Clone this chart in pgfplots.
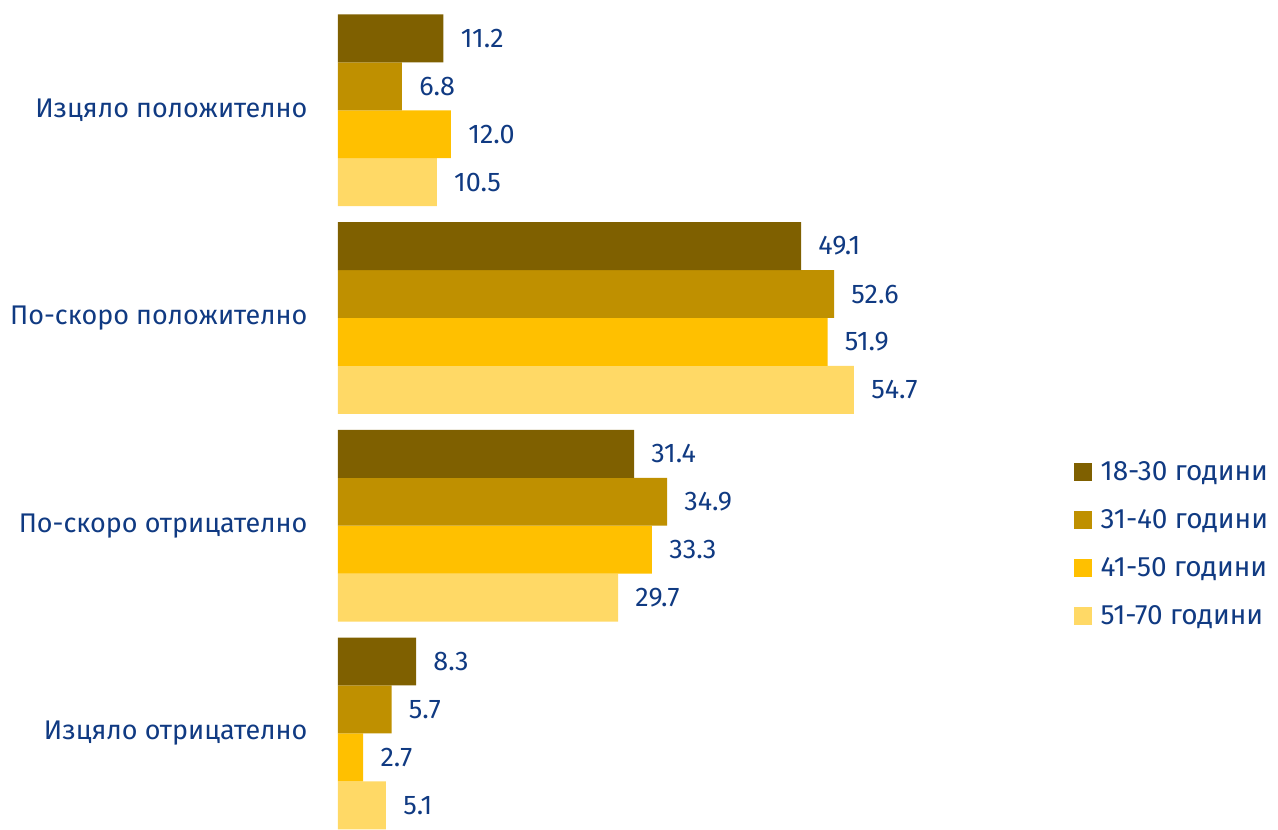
\documentclass[border=0pt]{standalone}
\usepackage{pgfplots}
\pgfplotsset{compat=1.18}
\usepackage{fontspec}
\setmainfont{Fira Sans}
\definecolor{txt}{RGB}{16,58,130}
\definecolor{cA}{HTML}{7F6000}
\definecolor{cB}{HTML}{BF9000}
\definecolor{cC}{HTML}{FFC000}
\definecolor{cD}{HTML}{FFD966}
\begin{document}
\begin{tikzpicture}
\begin{axis}[
  x=4.725pt, y=104pt,
  scale only axis,
  xmin=-35.77, xmax=99.5,
  ymin=-0.531, ymax=3.457,
  y dir=reverse,
  xbar=0pt,
  bar width=24pt,
  axis line style={draw=none},
  major tick length=0pt,
  xtick=\empty,
  ytick={0,1,2,3},
  yticklabels={Изцяло положително,По-скоро положително,По-скоро отрицателно,Изцяло отрицателно},
  yticklabel style={anchor=east, inner sep=0pt, xshift=154pt, font=\fontsize{13.5}{15}\selectfont, text=txt},
  nodes near coords,
  nodes near coords style={anchor=west, inner sep=0pt, xshift=8.5pt, font=\fontsize{13.5}{15}\selectfont, text=txt,
    /pgf/number format/.cd, fixed, fixed zerofill, precision=1, assume math mode=true},
  legend style={at={(axis description cs:0.836,0.343)}, anchor=west, draw=none, fill=none,
    font=\fontsize{14}{16}\selectfont, text=txt, row sep=9pt, column sep=2.5pt},
  legend cell align=left,
  reverse legend,
  legend image code/.code={\fill[#1] (0pt,-4.5pt) rectangle (9pt,4.5pt);},
  clip=false,
]
\addplot[fill=cD, draw=none] coordinates {(10.5,0) (54.7,1) (29.7,2) (5.1,3)};
\addplot[fill=cC, draw=none] coordinates {(12.0,0) (51.9,1) (33.3,2) (2.7,3)};
\addplot[fill=cB, draw=none] coordinates {(6.8,0) (52.6,1) (34.9,2) (5.7,3)};
\addplot[fill=cA, draw=none] coordinates {(11.2,0) (49.1,1) (31.4,2) (8.3,3)};
\legend{51-70 години,41-50 години,31-40 години,18-30 години}
\end{axis}
\end{tikzpicture}
\end{document}
